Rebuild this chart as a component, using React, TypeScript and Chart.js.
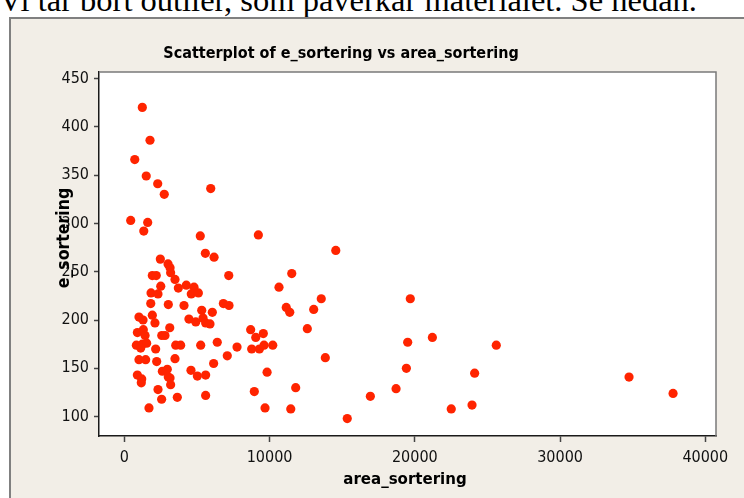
import { useEffect, useRef } from "react";
import { Chart, registerables } from "chart.js";

Chart.register(...registerables);

const noteText = "Vi tar bort outlier, som påverkar materialet. Se nedan.";
const titleText = "Scatterplot of e_sortering vs area_sortering";
const xTitle = "area_sortering";
const yTitle = "e_sortering";

const xTickValues = [0, 10000, 20000, 30000, 40000];
const yTickValues = [100, 150, 200, 250, 300, 350, 400, 450];

const areaSortering = [
  1240, 1770, 720, 1510, 2300, 2750, 5950, 440, 1610, 1340, 5230, 5580, 6180, 2480,
  3010, 3150, 3190, 1930, 2200, 3490, 2510, 4270, 3720, 4800, 1840, 2320, 4610, 5100, 1820,
  3030, 4110, 5330, 6060, 1010, 1290, 1930, 2110, 4450, 4920, 5420, 5600, 5900, 900, 1310,
  1430, 3130, 2580, 2800, 830, 1240, 1540, 1130, 2160, 3540, 3880, 5260, 6400, 1010, 1470,
  2230, 3490, 6150, 900, 1200, 1170, 2620, 2960, 3030, 3150, 3190, 4590, 5030, 5600, 2320,
  2570, 3650, 5600, 1700,
  9230, 14560, 7190, 11530, 10650, 6820, 7210, 13560, 11150, 11390, 13040, 12600, 8700,
  9570, 9050, 7760, 8770, 9300, 9620, 10220, 7090, 13840, 9830, 8950, 11800, 9690, 11460,
  15350, 19690, 19510, 21210, 25610, 19420, 24120, 18710, 16940, 22510, 23940, 34750, 37780,
];

const eSortering = [
  420, 386, 366, 349, 341, 330, 336, 303, 301, 292, 287, 269, 265, 263,
  258, 254, 249, 246, 246, 242, 235, 236, 233, 234, 228, 227, 227, 228, 217,
  216, 215, 210, 208, 203, 200, 205, 197, 201, 198, 202, 197, 196, 187, 190,
  184, 192, 184, 184, 174, 175, 176, 171, 170, 174, 174, 174, 177, 159, 159,
  157, 160, 155, 143, 139, 135, 147, 149, 141, 140, 133, 148, 142, 143, 128,
  118, 120, 122, 109,
  288, 272, 246, 248, 234, 217, 215, 222, 213, 208, 211, 191, 190,
  186, 182, 172, 170, 170, 174, 174, 163, 161, 146, 126, 130, 109, 108,
  98, 222, 177, 182, 174, 150, 145, 129, 121, 108, 112, 141, 124,
];

const FONT = '"DejaVu Sans Condensed", "DejaVu Sans", sans-serif';

export default function App() {
  const canvasRef = useRef<HTMLCanvasElement | null>(null);

  useEffect(() => {
    const canvas = canvasRef.current;
    if (!canvas) return;

    const decor = {
      id: "decor",
      beforeDraw(chart: any) {
        const { ctx, chartArea: a } = chart;
        ctx.save();
        ctx.fillStyle = "#ffffff";
        ctx.fillRect(a.left, a.top, a.right - a.left, a.bottom - a.top);
        ctx.restore();
      },
      afterDraw(chart: any) {
        const { ctx, chartArea: a } = chart;
        ctx.save();
        ctx.strokeStyle = "#7a7a7a";
        ctx.lineWidth = 1.5;
        ctx.beginPath();
        ctx.moveTo(a.left, a.top);
        ctx.lineTo(a.right, a.top);
        ctx.lineTo(a.right, a.bottom);
        ctx.stroke();

        ctx.fillStyle = "#000000";
        ctx.textAlign = "center";
        ctx.textBaseline = "alphabetic";
        ctx.font = `bold 16px ${FONT}`;
        ctx.fillText(titleText, 341, 58);
        ctx.font = `bold 16.7px ${FONT}`;
        ctx.fillText(xTitle, 405, 484);
        ctx.translate(64, 238);
        ctx.rotate(-Math.PI / 2);
        ctx.textBaseline = "middle";
        ctx.font = `bold 17.5px ${FONT}`;
        ctx.fillText(yTitle, 0, 0);
        ctx.restore();
      },
    };

    const chart = new Chart(canvas, {
      type: "scatter",
      data: {
        datasets: [
          {
            label: yTitle,
            data: areaSortering.map((x, i) => ({ x, y: eSortering[i] })),
            backgroundColor: "#ff2400",
            borderColor: "#ff2400",
            borderWidth: 0,
            pointRadius: 4.6,
            pointHoverRadius: 4.6,
          },
        ],
      },
      options: {
        animation: false,
        responsive: false,
        maintainAspectRatio: false,
        events: [],
        layout: { padding: { left: 0, top: 72, right: 28, bottom: 0 } },
        plugins: {
          legend: { display: false },
          title: { display: false },
          tooltip: { enabled: false },
        },
        scales: {
          x: {
            type: "linear",
            min: -1742,
            max: 40737,
            afterFit: (s: any) => {
              s.height = 62;
            },
            afterBuildTicks: (s: any) => {
              s.ticks = xTickValues.map((v) => ({ value: v }));
            },
            border: { display: true, color: "#1a1a1a", width: 1.5 },
            grid: {
              display: true,
              drawOnChartArea: false,
              drawTicks: true,
              tickLength: 6,
              tickColor: "#444",
              tickWidth: 1.5,
            },
            ticks: {
              padding: 6,
              color: "#111",
              font: { family: FONT, size: 16 },
              maxRotation: 0,
              callback: (v: any) => String(v),
            },
          },
          y: {
            type: "linear",
            min: 80,
            max: 456.6,
            afterFit: (s: any) => {
              s.width = 99;
            },
            afterBuildTicks: (s: any) => {
              s.ticks = yTickValues.map((v) => ({ value: v }));
            },
            border: { display: true, color: "#1a1a1a", width: 1.5 },
            grid: {
              display: true,
              drawOnChartArea: false,
              drawTicks: true,
              tickLength: 5,
              tickColor: "#444",
              tickWidth: 1.5,
            },
            ticks: {
              padding: 5,
              color: "#111",
              font: { family: FONT, size: 16 },
              callback: (v: any) => String(v),
            },
          },
        },
      },
      plugins: [decor],
    });

    return () => chart.destroy();
  }, []);

  return (
    <div
      style={{
        position: "fixed",
        left: 0,
        top: 0,
        width: 744,
        height: 498,
        overflow: "hidden",
        background: "#ffffff",
      }}
    >
      <div
        style={{
          position: "absolute",
          left: -1,
          top: -14,
          fontFamily: '"Liberation Serif", "Times New Roman", serif',
          fontSize: 32.5,
          lineHeight: "28px",
          whiteSpace: "nowrap",
          color: "#000",
        }}
      >
        {noteText}
      </div>
      <div
        style={{
          position: "absolute",
          left: 9,
          top: 17,
          width: 760,
          height: 500,
          background: "#f2eee7",
          borderLeft: "2px solid #808080",
          borderTop: "2px solid #808080",
        }}
      />
      <canvas
        ref={canvasRef}
        width={744}
        height={498}
        style={{ position: "absolute", left: 0, top: 0, width: 744, height: 498 }}
      />
    </div>
  );
}
